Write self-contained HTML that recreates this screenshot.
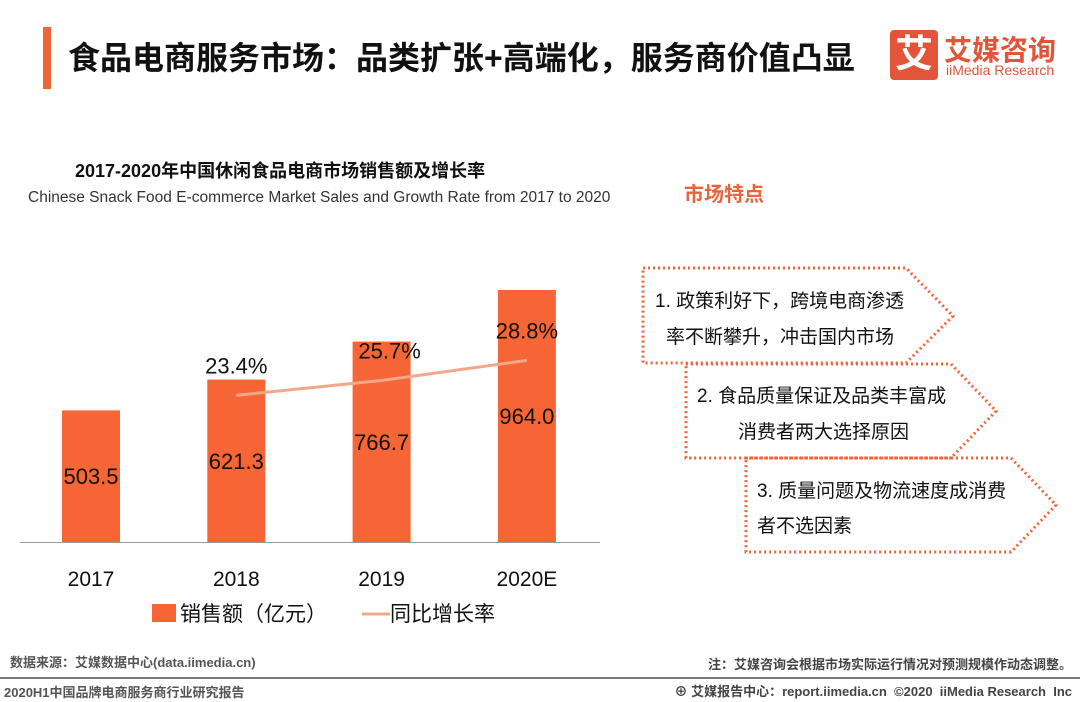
<!DOCTYPE html>
<html><head><meta charset="utf-8"><style>
body{margin:0;width:1080px;height:702px;background:#fff;font-family:"Liberation Sans","Noto Sans CJK SC",sans-serif;position:relative;overflow:hidden}
.a{position:absolute;white-space:nowrap}
</style></head><body>
<div class="a" style="left:43px;top:27px;width:8px;height:62px;background:#f0643a"></div>
<div class="a" style="left:68px;top:33px;font-size:32px;font-weight:bold;color:#111">食品电商服务市场：品类扩张+高端化，服务商价值凸显</div>
<div class="a" style="left:890px;top:30px;width:48px;height:50px;background:#e2553a;border-radius:4px;color:#fff;font-size:38px;font-weight:bold;text-align:center;line-height:50px">艾</div>
<div class="a" style="left:944px;top:29px;font-size:28px;font-weight:bold;color:#e2553a">艾媒咨询</div>
<div class="a" style="left:946px;top:62px;font-size:14px;color:#e2553a">iiMedia Research</div>
<div class="a" style="left:75px;top:157px;font-size:18px;font-weight:bold;color:#111">2017-2020年中国休闲食品电商市场销售额及增长率</div>
<div class="a" style="left:28px;top:189px;font-size:15.5px;color:#333">Chinese Snack Food E-commerce Market Sales and Growth Rate from 2017 to 2020</div>
<svg class="a" style="left:0;top:0" width="640" height="640" id="chart"></svg>
<div class="a" style="left:684px;top:178px;font-size:20px;font-weight:bold;color:#e8643a">市场特点</div>
<svg class="a" style="left:0;top:0" width="1080" height="702">
<g fill="none" stroke="#f0643a" stroke-width="3" stroke-dasharray="2 3">
<polygon points="643,268 906,268 953,316 906,363 643,363"/>
<polygon points="686,364 951,364 996,411 951,458 686,458"/>
<polygon points="746,458 1011,458 1056,505 1011,552 746,552"/>
</g>
<g font-family="Liberation Sans,Noto Sans CJK SC,sans-serif" font-size="19" fill="#111">
<text x="655" y="307">1. 政策利好下，跨境电商渗透</text>
<text x="666" y="343">率不断攀升，冲击国内市场</text>
<text x="697" y="402">2. 食品质量保证及品类丰富成</text>
<text x="738" y="438">消费者两大选择原因</text>
<text x="757" y="497">3. 质量问题及物流速度成消费</text>
<text x="757" y="532">者不选因素</text>
</g></svg>
<div class="a" style="left:10px;top:652px;font-size:13px;font-weight:bold;color:#555">数据来源：艾媒数据中心(data.iimedia.cn)</div>
<div class="a" style="right:8px;top:654px;font-size:13px;font-weight:bold;color:#444">注：艾媒咨询会根据市场实际运行情况对预测规模作动态调整。</div>
<div class="a" style="left:0;top:677px;width:1080px;height:2px;background:#777"></div>
<div class="a" style="left:4px;top:682px;font-size:13px;font-weight:bold;color:#555">2020H1中国品牌电商服务商行业研究报告</div>
<div class="a" style="right:8px;top:681px;font-size:13px;font-weight:bold;color:#444">⊕ 艾媒报告中心：report.iimedia.cn &nbsp;©2020 &nbsp;iiMedia Research &nbsp;Inc</div>
<script>
const categories=["2017","2018","2019","2020E"];
const sales=[503.5,621.3,766.7,964.0];
const salesLabels=["503.5","621.3","766.7","964.0"];
const growth=[null,23.4,25.7,28.8];
const growthLabels=["","23.4%","25.7%","28.8%"];
const NS="http://www.w3.org/2000/svg";
const svg=document.getElementById('chart');
const base=542;
const x=i=>91+i*145.3;
const yS=v=>base-v*0.2614;
const yG=v=>547-v*6.48;
function mk(t,a,txt){const e=document.createElementNS(NS,t);for(const k in a)e.setAttribute(k,a[k]);if(txt!=null)e.textContent=txt;svg.appendChild(e);return e;}
const ax=mk('line',{x1:20,x2:600,y1:base+0.5,y2:base+0.5,stroke:'#999','stroke-width':1});


const F='Liberation Sans,Noto Sans CJK SC,sans-serif';
sales.forEach((v,i)=>{
 const r=mk('rect',{x:x(i)-29,y:yS(v),width:58,height:base-yS(v),fill:'#f66535'});
 
 
 const t=mk('text',{x:x(i),y:(yS(v)+base)/2+8,'text-anchor':'middle','font-size':22,'font-family':F,fill:'#111'},salesLabels[i]);
 
 
 const c=mk('text',{x:x(i),y:586,'text-anchor':'middle','font-size':21,'font-family':F,fill:'#111'},categories[i]);
 
 
});
let pts=[];growth.forEach((g,i)=>{if(g!=null)pts.push(x(i)+','+yG(g));});
const pl=mk('polyline',{points:pts.join(' '),fill:'none',stroke:'#f2a788','stroke-width':3});


const off=[0,0,8,0];
growth.forEach((g,i)=>{if(g==null)return;
 const t=mk('text',{x:x(i)+off[i],y:yG(g)-22,'text-anchor':'middle','font-size':22,'font-family':F,fill:'#111'},growthLabels[i]);
 
 
});
const lg1=mk('rect',{x:152,y:604,width:24,height:18,fill:'#f66535'});


const lt1=mk('text',{x:180,y:621,'font-size':21,'font-family':F,fill:'#111'},'销售额（亿元）');


const lg2=mk('line',{x1:362,x2:390,y1:614,y2:614,stroke:'#f2a788','stroke-width':3});


const lt2=mk('text',{x:390,y:621,'font-size':21,'font-family':F,fill:'#111'},'同比增长率');


</script>
</body></html>
